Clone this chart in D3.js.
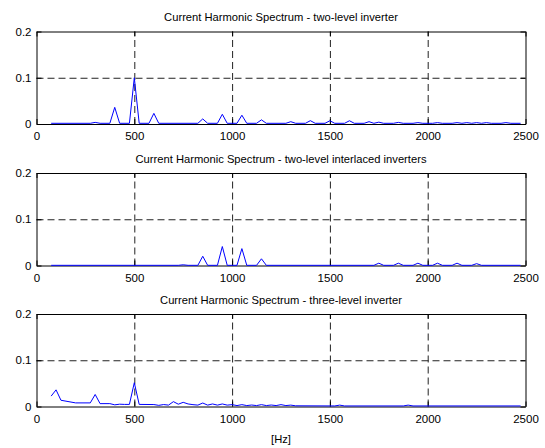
<!DOCTYPE html>
<html>
<head>
<meta charset="utf-8">
<script src="https://cdn.jsdelivr.net/npm/d3@7"></script>
<style>
  html, body { margin: 0; padding: 0; background: #fff; }
  svg { display: block; font-family: "Liberation Sans", Arial, Helvetica, sans-serif; }
  .tick text { font-size: 11.5px; fill: #000; }
  .title { font-size: 11.2px; fill: #000; }
</style>
</head>
<body>
<svg id="chart" width="545" height="448"></svg>
<script>
// Axis ticks
const freqTicks = [0, 500, 1000, 1500, 2000, 2500];
const ampTicks = [0, 0.1, 0.2];
const freqGrid = [500, 1000, 1500, 2000];
const ampGrid = [0.1];

const titles = [
  "Current Harmonic Spectrum - two-level inverter",
  "Current Harmonic Spectrum - two-level interlaced inverters",
  "Current Harmonic Spectrum - three-level inverter"
];
const xLabel = "[Hz]";

// Two-level inverter: frequency [Hz] and normalised amplitude
const freq1 = [75, 275, 300, 325, 375, 400, 425, 475, 500, 525, 575, 600, 625,
  825, 850, 875, 925, 950, 975, 1025, 1050, 1075, 1125, 1150, 1175,
  1275, 1300, 1325, 1375, 1400, 1425, 1475, 1500, 1525, 1575, 1600, 1625,
  1675, 1700, 1725, 1750, 1775, 1825, 1850, 1875, 1925, 1950, 1975,
  2025, 2050, 2075, 2125, 2150, 2175, 2200, 2225, 2250, 2275, 2300, 2325,
  2375, 2400, 2425, 2475];
const amp1 = [0.0015, 0.0015, 0.0035, 0.0015, 0.0015, 0.036, 0.0015, 0.0015, 0.1, 0.0015, 0.0015, 0.023, 0.0015,
  0.0015, 0.011, 0.0015, 0.0015, 0.021, 0.0015, 0.0015, 0.019, 0.0015, 0.0015, 0.009, 0.0015,
  0.0015, 0.005, 0.0015, 0.0015, 0.0072, 0.0015, 0.0015, 0.007, 0.0015, 0.0015, 0.007, 0.0015,
  0.0015, 0.005, 0.0015, 0.004, 0.0015, 0.0015, 0.0035, 0.0015, 0.0015, 0.003, 0.0015,
  0.0015, 0.003, 0.0015, 0.0015, 0.003, 0.0015, 0.003, 0.0015, 0.003, 0.0015, 0.003, 0.0015,
  0.0015, 0.003, 0.0015, 0.0015];

// Two-level interlaced inverters
const freq2 = [75, 725, 750, 775, 825, 850, 875, 925, 950, 975, 1025, 1050, 1075,
  1125, 1150, 1175, 1725, 1750, 1775, 1825, 1850, 1875, 1925, 1950, 1975,
  2025, 2050, 2075, 2125, 2150, 2175, 2225, 2250, 2275, 2475];
const amp2 = [0.0004, 0.0004, 0.0015, 0.0004, 0.0004, 0.02, 0.0004, 0.0004, 0.041, 0.0004, 0.0004, 0.0365, 0.0004,
  0.0004, 0.0145, 0.0004, 0.0004, 0.005, 0.0004, 0.0004, 0.005, 0.0004, 0.0004, 0.005, 0.0004,
  0.0004, 0.005, 0.0004, 0.0004, 0.005, 0.0004, 0.0004, 0.004, 0.0004, 0.0004];

// Three-level inverter
const freq3 = [75, 100, 125, 200, 275, 300, 325, 375, 400, 425, 450, 475, 500, 525,
  600, 625, 650, 675, 700, 725, 750, 775, 800, 825, 850, 875, 900, 925, 950, 975,
  1000, 1025, 1050, 1075, 1100, 1125, 1150, 1175, 1200, 1225, 1250, 1275, 1300, 1325,
  1525, 1550, 1575, 1875, 1900, 1925, 2475];
const amp3 = [0.0225, 0.036, 0.0135, 0.0078, 0.0078, 0.026, 0.0062, 0.0062, 0.0036, 0.005, 0.0045, 0.0045, 0.0514, 0.0045,
  0.0042, 0.0025, 0.0042, 0.003, 0.0105, 0.005, 0.009, 0.0055, 0.004, 0.003, 0.0075, 0.003, 0.0055, 0.003, 0.0055, 0.003,
  0.004, 0.002, 0.004, 0.002, 0.0032, 0.002, 0.004, 0.002, 0.0032, 0.002, 0.004, 0.002, 0.003, 0.0015,
  0.0012, 0.003, 0.0012, 0.0012, 0.003, 0.0012, 0.0012];

const series = [
  { freq: freq1, amp: amp1 },
  { freq: freq2, amp: amp2 },
  { freq: freq3, amp: amp3 }
];

const panelTops = [31.5, 173, 314];
const panelHeight = 92.5;
const left = 36.5, right = 525.5;

const svg = d3.select("#chart");
const x = d3.scaleLinear().domain([0, 2500]).range([left, right]);

series.forEach((s, i) => {
  const top = panelTops[i];
  const bottom = top + panelHeight;
  const y = d3.scaleLinear().domain([0, 0.2]).range([bottom, top]);
  const g = svg.append("g");

  // dashed grid
  g.append("g")
    .attr("transform", `translate(0,${bottom})`)
    .call(d3.axisBottom(x).tickValues(freqGrid).tickSize(-panelHeight).tickFormat(""))
    .call(a => a.select(".domain").remove())
    .call(a => a.selectAll("line").attr("stroke", "#222").attr("stroke-dasharray", "7,4"));
  g.append("g")
    .attr("transform", `translate(${left},0)`)
    .call(d3.axisLeft(y).tickValues(ampGrid).tickSize(-(right - left)).tickFormat(""))
    .call(a => a.select(".domain").remove())
    .call(a => a.selectAll("line").attr("stroke", "#222").attr("stroke-dasharray", "7,4"));

  // box with inward ticks
  g.append("g")
    .attr("transform", `translate(0,${bottom})`)
    .call(d3.axisBottom(x).tickValues(freqTicks).tickSize(-5).tickSizeOuter(0).tickPadding(8).tickFormat(d3.format("d")))
    .call(a => a.selectAll("text").attr("font-family", null).attr("font-size", null));
  g.append("g")
    .attr("transform", `translate(0,${top})`)
    .call(d3.axisTop(x).tickValues(freqTicks).tickSize(-5).tickSizeOuter(0).tickFormat(""));
  g.append("g")
    .attr("transform", `translate(${left},0)`)
    .call(d3.axisLeft(y).tickValues(ampTicks).tickSize(-5).tickSizeOuter(0).tickPadding(5)
      .tickFormat(d => d === 0 ? "0" : d3.format(".1f")(d)))
    .call(a => a.selectAll("text").attr("font-family", null).attr("font-size", null));
  g.append("g")
    .attr("transform", `translate(${right},0)`)
    .call(d3.axisRight(y).tickValues(ampTicks).tickSize(-5).tickSizeOuter(0).tickFormat(""));
  g.selectAll(".domain").attr("stroke", "#000");

  g.append("text")
    .attr("class", "title")
    .attr("x", (left + right) / 2)
    .attr("y", top - 10.5)
    .attr("text-anchor", "middle")
    .text(titles[i]);

  const line = d3.line()
    .x((d, k) => x(s.freq[k]))
    .y((d, k) => y(s.amp[k]));
  g.append("path")
    .datum(s.amp)
    .attr("fill", "none")
    .attr("stroke", "#0000ff")
    .attr("stroke-width", 1)
    .attr("stroke-linejoin", "round")
    .attr("d", line);
});

svg.append("text")
  .attr("class", "title")
  .attr("x", (left + right) / 2)
  .attr("y", 443)
  .attr("text-anchor", "middle")
  .text(xLabel);
</script>
</body>
</html>
